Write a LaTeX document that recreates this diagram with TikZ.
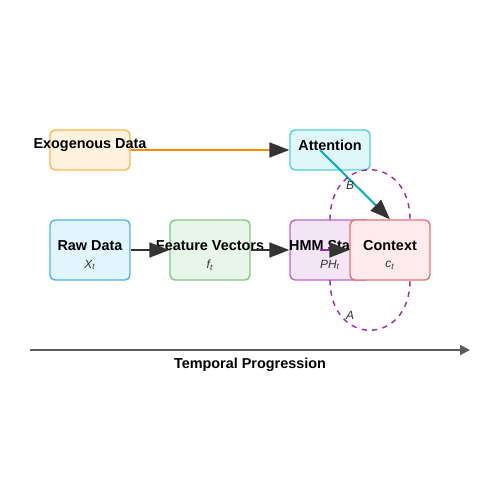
\documentclass[tikz,border=0pt]{standalone}
\usepackage{fontspec}
\setmainfont{Liberation Sans}
\usetikzlibrary{positioning, arrows.meta}

\definecolor{ink}{HTML}{333333}
\definecolor{exofill}{HTML}{FFF3E0}
\definecolor{exoline}{HTML}{FFB74D}
\definecolor{attfill}{HTML}{E0F7FA}
\definecolor{attline}{HTML}{4DD0E1}
\definecolor{rawfill}{HTML}{E1F5FE}
\definecolor{rawline}{HTML}{4FB3E8}
\definecolor{featfill}{HTML}{E8F5E9}
\definecolor{featline}{HTML}{81C784}
\definecolor{hmmfill}{HTML}{F3E5F5}
\definecolor{hmmline}{HTML}{BA68C8}
\definecolor{ctxfill}{HTML}{FFEBEE}
\definecolor{ctxline}{HTML}{E57373}
\definecolor{orangeln}{HTML}{FB8C00}
\definecolor{tealln}{HTML}{00ACC1}
\definecolor{purpleln}{HTML}{9C27B0}

\begin{document}
\begin{tikzpicture}[x=0.02cm, y=-0.02cm,
    box/.style={draw, rounded corners=0.1cm, line width=0.8pt, minimum width=1.6cm, inner sep=0pt},
    title/.style={font=\fontsize{8.2}{9.8}\selectfont\bfseries},
    sub/.style={font=\fontsize{6.8}{8}\selectfont\itshape, text=ink},
    link/.style={line width=1.1pt, -{Triangle[length=0.4cm, width=0.3cm, color=ink]}}]
    \useasboundingbox (0,0) rectangle (500,500);
    % top row
    \node[box, minimum height=0.8cm, draw=exoline, fill=exofill] (exo) at (90,150) {};
    \node[title] (exot) at (90,145.5) {Exogenous Data};
    \node[box, minimum height=0.8cm, draw=attline, fill=attfill] (att) at (330,150) {};
    \node[title] (attt) at (330,145.5) {Attention};
    % bottom row
    \node[box, minimum height=1.2cm, draw=rawline, fill=rawfill] (raw) at (90,250) {};
    \node[title] (rawt) at (90,245.5) {Raw Data};
    \node[sub] (raws) at (90,265) {X\textsubscript{t}};
    \node[box, minimum height=1.2cm, draw=featline, fill=featfill] (feat) at (210,250) {};
    \node[title] (featt) at (210,245.5) {Feature Vectors};
    \node[sub] (feats) at (210,265) {f\textsubscript{t}};
    \node[box, minimum height=1.2cm, draw=hmmline, fill=hmmfill] (hmm) at (330,250) {};
    \node[title] (hmmt) at (330,245.5) {HMM States};
    \node[sub] (hmms) at (330,265) {PH\textsubscript{t}};
    \node[box, minimum height=1.2cm, draw=ctxline, fill=ctxfill] (ctx) at (390,250) {};
    \node[title] (ctxt) at (390,245.5) {Context};
    \node[sub] (ctxs) at (390,265) {c\textsubscript{t}};
    % connectors
    \coordinate (attin) at (320,150);
    \coordinate (hmmout) at (320,250);
    \draw[link, orangeln] (exo.east) -- (att.west);
    \draw[link, ink] (raw.east) -- (feat.west);
    \draw[link, ink] (feat.east) -- (hmm.west);
    \draw[link, purpleln] (hmmout) -- (ctx.west);
    \draw[link, tealln] (attin) -- (ctx.north);
    % transition loops
    \coordinate (lt1) at (330,220);
    \coordinate (lt2) at (410,220);
    \coordinate (lb1) at (330,280);
    \coordinate (lb2) at (410,280);
    \draw[purpleln, dashed, line width=0.8pt] (lt1) .. controls (330,153) and (410,153) .. (lt2);
    \draw[purpleln, dashed, line width=0.8pt] (lb1) .. controls (330,347) and (410,347) .. (lb2);
    \node[sub] (bl) at (350,185) {B};
    \node[sub] (al) at (350,315) {A};
    % time axis
    \coordinate (tl0) at (30,350);
    \coordinate (tl1) at (470,350);
    \draw[ink!80, line width=1.1pt, -{Triangle[length=0.2cm, width=0.2cm]}] (tl0) -- (tl1);
    \node[title] (tlt) at (250,365) {Temporal Progression};
\end{tikzpicture}
\end{document}
